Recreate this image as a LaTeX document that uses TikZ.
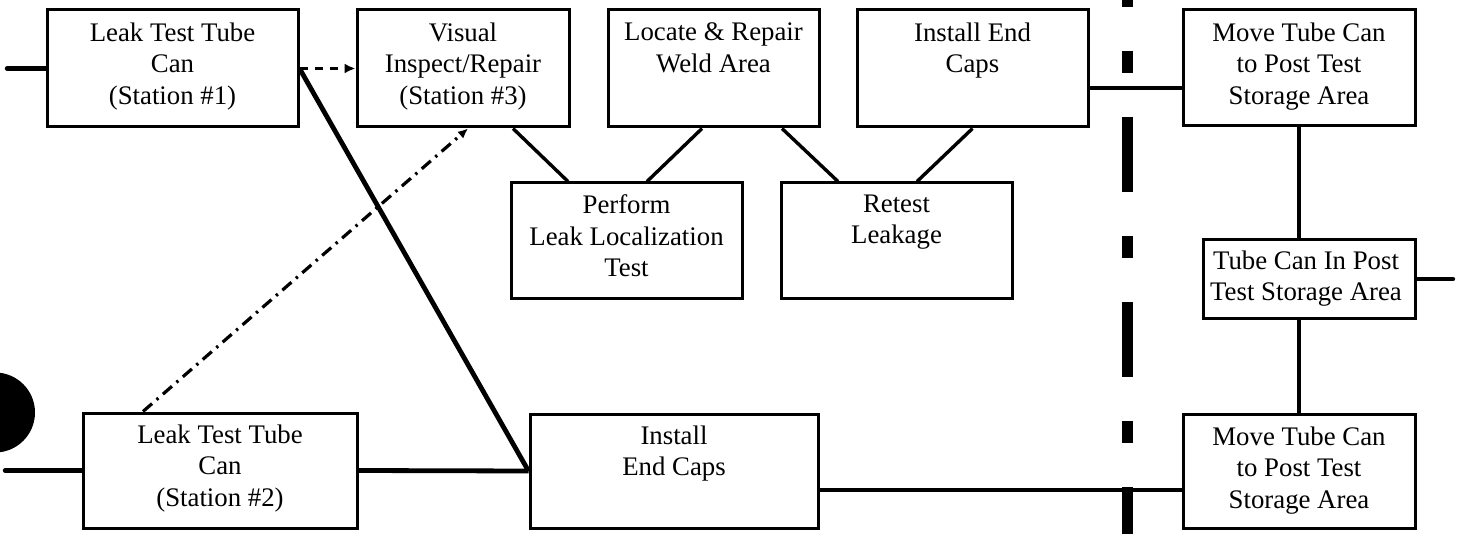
\documentclass[tikz,border=0pt]{standalone}
\usepackage{fontspec}
\setmainfont{Liberation Serif}
\usetikzlibrary{calc,arrows.meta}
\begin{document}
\begin{tikzpicture}[x=0.5pt,y=-0.5pt,
  box/.style={draw,line width=1.5pt,inner sep=0pt,rectangle},
  txt/.style={anchor=north,align=center,inner sep=0pt,font=\fontsize{13.4}{15.75}\selectfont},
  heavy/.style={line width=2.4pt},
  stub/.style={line width=2.2pt,line cap=round},
  link/.style={line width=1.7pt},
  dashedarrow/.style={line width=1.5pt,dash pattern=on 4pt off 3.5pt,-{Latex[length=5.5pt,width=5pt]}},
  dashdotarrow/.style={line width=1.6pt,dash pattern=on 6pt off 3pt on 1.2pt off 3pt,-{Latex[length=5pt,width=4.5pt]}},
  divider/.style={line width=5.5pt,dash pattern=on 37.5pt off 22pt on 11pt off 22pt}]
\useasboundingbox (0,0) rectangle (1461,534);

% boxes
\node[box,minimum width=125.5pt,minimum height=58.5pt] (A) at (172.5,68.5) {};
\node[box,minimum width=106pt,minimum height=58.5pt] (B) at (463,68.5) {};
\node[box,minimum width=105.5pt,minimum height=58.5pt] (C) at (713.5,68.5) {};
\node[box,minimum width=115.5pt,minimum height=58.5pt] (D) at (972.5,68.5) {};
\node[box,minimum width=115.5pt,minimum height=57.5pt] (E) at (626.5,240.5) {};
\node[box,minimum width=115.5pt,minimum height=57.5pt] (F) at (896.5,240.5) {};
\node[box,minimum width=116pt,minimum height=58pt] (G) at (1299,68) {};
\node[box,minimum width=106pt,minimum height=39pt] (H) at (1309,279) {};
\node[box,minimum width=116pt,minimum height=57pt] (I) at (1299,471) {};
\node[box,minimum width=137pt,minimum height=57.5pt] (J) at (220,470.5) {};
\node[box,minimum width=144pt,minimum height=57pt] (K) at (674,471) {};

% texts
\node[txt] (tA) at ($(A.north)+(0,14)$) {Leak Test Tube\\Can\\(Station \#1)};
\node[txt] (tB) at ($(B.north)+(0,14)$) {Visual\\Inspect/Repair\\(Station \#3)};
\node[txt] (tC) at ($(C.north)+(0,14)$) {Locate \& Repair\\Weld Area};
\node[txt] (tD) at ($(D.north)+(0,14)$) {Install End\\Caps};
\node[txt] (tE) at ($(E.north)+(0,13)$) {Perform\\Leak Localization\\Test};
\node[txt] (tF) at ($(F.north)+(0,13)$) {Retest\\Leakage};
\node[txt] (tG) at ($(G.north)+(0,14)$) {Move Tube Can\\to Post Test\\Storage Area};
\node[txt] (tH) at ($(H.north)+(-3,12)$) {Tube Can In Post\\Test Storage Area};
\node[txt] (tI) at ($(I.north)+(0,14)$) {Move Tube Can\\to Post Test\\Storage Area};
\node[txt] (tJ) at ($(J.north)+(0,13)$) {Leak Test Tube\\Can\\(Station \#2)};
\node[txt] (tK) at ($(K.north)+(0,13)$) {Install\\End Caps};

% free ends
\coordinate (aL) at (7,68.5);
\coordinate (jL) at (5,470.5);
\coordinate (hR) at (1453,279);

% connectors
\draw[stub] (A.west) -- (aL);
\draw[stub] (J.west) -- (jL);
\draw[stub] (H.east) -- (hR);
\draw[heavy] (A.east) -- (K.west);
\draw[dashedarrow] (A.east) -- (B.west);
\draw[dashdotarrow] ($(J.north)+(-77,0)$) -- ($(B.south)+(5,0)$);
\draw[link] ($(B.south)+(50,0)$) -- ($(E.north)+(-58.5,0)$);
\draw[link] ($(C.south)+(-11.5,0)$) -- ($(E.north)+(20.5,0)$);
\draw[link] ($(C.south)+(68.5,0)$) -- ($(F.north)+(-58.5,0)$);
\draw[link] (D.south) -- ($(F.north)+(20.5,0)$);
\draw[link] ($(D.east)+(0,19.5)$) -- ($(G.west)+(0,20)$);
\draw[heavy] (G.south) -- (G.south |- H.north);
\draw[heavy] (I.north |- H.south) -- (I.north);
\draw[heavy] (J.east) -- (K.west);
\draw[heavy] ($(K.east)+(0,19)$) -- ($(I.west)+(0,19)$);

% divider and punch hole
\begin{scope}
  \clip (0,0) rectangle (1461,534);
  \draw[divider] (1127.5,-68) -- (1127.5,600);
  \fill (-5,412.5) circle [radius=20pt];
\end{scope}
\end{tikzpicture}
\end{document}
